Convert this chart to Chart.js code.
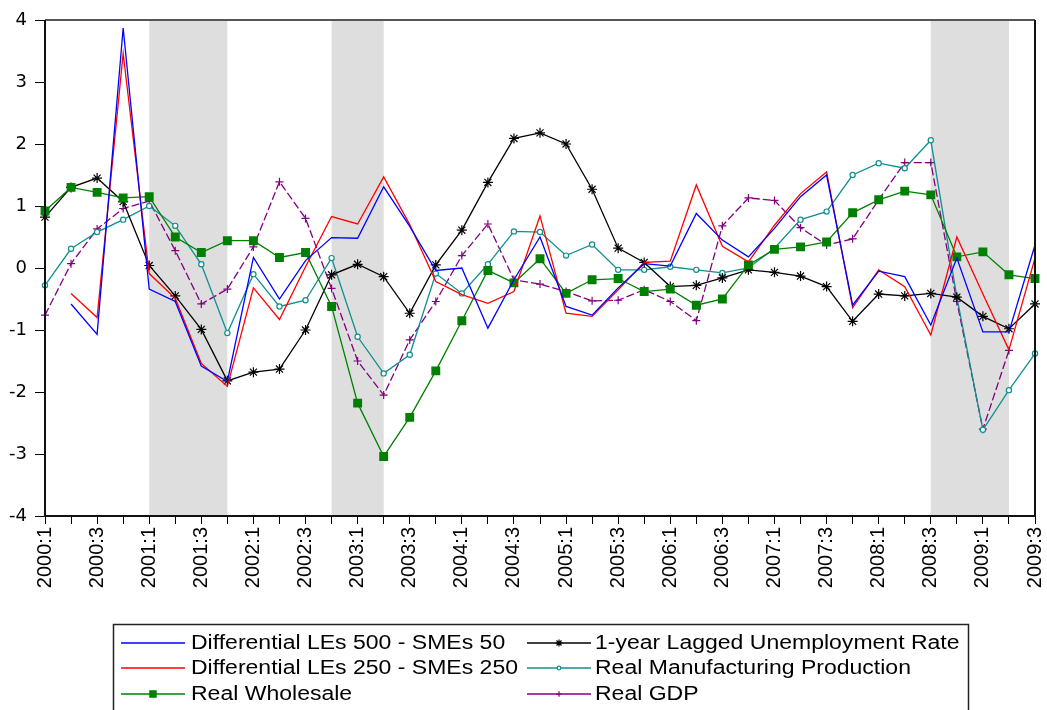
<!DOCTYPE html>
<html>
<head>
<meta charset="utf-8">
<script src="https://cdn.jsdelivr.net/npm/chart.js@4.4.1/dist/chart.umd.min.js"></script>
<style>
  html, body { margin: 0; padding: 0; background: #fff; overflow: hidden; }
  #wrap { width: 1047px; height: 710px; position: relative; }
</style>
</head>
<body>
<div id="wrap"><canvas id="chart" width="1047" height="710"></canvas></div>
<script>
const quarters = [
    "2000:1", "2000:2", "2000:3", "2000:4", "2001:1", "2001:2", "2001:3", "2001:4",
    "2002:1", "2002:2", "2002:3", "2002:4", "2003:1", "2003:2", "2003:3", "2003:4",
    "2004:1", "2004:2", "2004:3", "2004:4", "2005:1", "2005:2", "2005:3", "2005:4",
    "2006:1", "2006:2", "2006:3", "2006:4", "2007:1", "2007:2", "2007:3", "2007:4",
    "2008:1", "2008:2", "2008:3", "2008:4", "2009:1", "2009:2", "2009:3"
];

// shaded periods (first and last quarter index)
const recessions = [[4, 7], [11, 13], [34, 37]];

const diff500 = [null, -0.58, -1.07, 3.87, -0.34, -0.54, -1.58, -1.83, 0.17, -0.5,
    0.12, 0.49, 0.48, 1.31, 0.67, -0.04, 0.0, -0.97, -0.19, 0.5,
    -0.62, -0.76, -0.32, 0.07, 0.03, 0.88, 0.45, 0.18, 0.64, 1.15,
    1.5, -0.6, -0.05, -0.14, -0.92, 0.16, -1.03, -1.03, 0.37];

const diff250 = [null, -0.41, -0.8, 3.46, -0.09, -0.49, -1.54, -1.91, -0.32, -0.83,
    0.02, 0.83, 0.71, 1.47, 0.7, -0.22, -0.43, -0.57, -0.38, 0.84,
    -0.73, -0.78, -0.35, 0.09, 0.11, 1.34, 0.35, 0.1, 0.69, 1.2,
    1.55, -0.64, -0.03, -0.3, -1.08, 0.5, -0.42, -1.32, 0.16];

const wholesale = [0.92, 1.3, 1.22, 1.13, 1.15, 0.5, 0.25, 0.44, 0.44, 0.17,
    0.25, -0.62, -2.18, -3.04, -2.41, -1.66, -0.85, -0.04, -0.24, 0.15,
    -0.41, -0.19, -0.17, -0.38, -0.34, -0.6, -0.5, 0.05, 0.3, 0.34,
    0.42, 0.89, 1.1, 1.24, 1.18, 0.18, 0.26, -0.11, -0.17];

const unemployment = [0.82, 1.3, 1.45, 1.07, 0.04, -0.45, -0.99, -1.82, -1.68, -1.63,
    -1.0, -0.11, 0.06, -0.14, -0.73, 0.05, 0.61, 1.38, 2.09, 2.18,
    2.0, 1.27, 0.32, 0.09, -0.3, -0.28, -0.16, -0.03, -0.07, -0.13,
    -0.3, -0.86, -0.42, -0.45, -0.41, -0.47, -0.78, -0.98, -0.58];

const manufacturing = [-0.28, 0.31, 0.58, 0.78, 1.0, 0.68, 0.06, -1.05, -0.1, -0.62,
    -0.52, 0.16, -1.11, -1.7, -1.4, -0.09, -0.41, 0.06, 0.59, 0.58,
    0.2, 0.38, -0.03, -0.03, 0.02, -0.03, -0.08, 0.0, 0.32, 0.78,
    0.91, 1.5, 1.69, 1.61, 2.06, -0.47, -2.61, -1.97, -1.38];

const gdp = [-0.76, 0.07, 0.63, 0.96, 1.08, 0.28, -0.58, -0.34, 0.34, 1.39,
    0.8, -0.33, -1.5, -2.05, -1.16, -0.54, 0.2, 0.71, -0.19, -0.26,
    -0.38, -0.53, -0.52, -0.35, -0.54, -0.85, 0.68, 1.13, 1.09, 0.65,
    0.37, 0.47, 1.1, 1.7, 1.7, -0.54, -2.6, -1.33, null];

const series = [
    { label: "Differential LEs 500 - SMEs 50", data: diff500, color: "#0000ff", style: false, radius: 0, col: 0, row: 0 },
    { label: "Differential LEs 250 - SMEs 250", data: diff250, color: "#ff0000", style: false, radius: 0, col: 0, row: 1 },
    { label: "Real Wholesale", data: wholesale, color: "#008000", style: "rect", radius: 6.3, col: 0, row: 2 },
    { label: "1-year Lagged Unemployment Rate", data: unemployment, color: "#000000", style: "star", radius: 5, col: 1, row: 0 },
    { label: "Real Manufacturing Production", data: manufacturing, color: "#0f8f8f", style: "circle", radius: 2.6, col: 1, row: 1 },
    { label: "Real GDP", data: gdp, color: "#800080", style: "cross", radius: 4, col: 1, row: 2, dash: [8, 3] }
];

const shading = {
    id: "shading",
    beforeDatasetsDraw(chart) {
        const { ctx, chartArea, scales } = chart;
        ctx.save();
        ctx.fillStyle = "#dedede";
        for (const [a, b] of recessions) {
            const x1 = scales.x.getPixelForValue(a);
            const x2 = scales.x.getPixelForValue(b);
            ctx.fillRect(x1, chartArea.top, x2 - x1, chartArea.bottom - chartArea.top);
        }
        ctx.restore();
    }
};

const frame = {
    id: "frame",
    afterDatasetsDraw(chart) {
        const { ctx, chartArea } = chart;
        const { left, right, top, bottom } = chartArea;
        ctx.save();
        ctx.lineWidth = 2;
        ctx.strokeStyle = "#555";
        ctx.beginPath();
        ctx.moveTo(left, top);
        ctx.lineTo(right, top);
        ctx.stroke();
        ctx.strokeStyle = "#111";
        ctx.beginPath();
        ctx.moveTo(right, top);
        ctx.lineTo(right, bottom);
        ctx.lineTo(left, bottom);
        ctx.lineTo(left, top);
        ctx.stroke();
        ctx.restore();
    }
};

// legend in two columns, drawn under the plot
const boxLegend = {
    id: "boxLegend",
    afterDraw(chart) {
        const ctx = chart.ctx;
        ctx.save();
        ctx.strokeStyle = "#222";
        ctx.lineWidth = 1.5;
        ctx.strokeRect(113.5, 624.5, 855, 110);
        const lineX = [121, 527];
        const textX = [191, 595];
        const rowY = [643, 668, 694];
        series.forEach(s => {
            const x0 = lineX[s.col];
            const y = rowY[s.row];
            ctx.strokeStyle = s.color;
            ctx.lineWidth = 1.4;
            ctx.setLineDash([]);
            ctx.beginPath();
            ctx.moveTo(x0, y);
            ctx.lineTo(x0 + 64, y);
            ctx.stroke();
            if (s.style) {
                ctx.fillStyle = s.style === "circle" ? "#fff" : s.color;
                ctx.lineWidth = 1.2;
                Chart.helpers.drawPoint(ctx, { pointStyle: s.style, radius: s.radius * 0.7, rotation: 0, borderWidth: 1.2 }, x0 + 32, y);
            }
            ctx.save();
            ctx.translate(textX[s.col], y);
            ctx.scale(1.18, 1);
            ctx.fillStyle = "#000";
            ctx.font = "19.5px 'Liberation Sans', Arial, sans-serif";
            ctx.textBaseline = "middle";
            ctx.fillText(s.label, 0, 1);
            ctx.restore();
        });
        ctx.restore();
    }
};

new Chart(document.getElementById("chart").getContext("2d"), {
    type: "line",
    data: {
        labels: quarters,
        datasets: series.map(s => ({
            label: s.label,
            data: s.data,
            borderColor: s.color,
            backgroundColor: s.style === "circle" ? "#ffffff" : s.color,
            borderWidth: 1.3,
            borderDash: s.dash || [],
            pointStyle: s.style,
            pointRadius: s.radius,
            pointBorderColor: s.color,
            pointBackgroundColor: s.style === "circle" ? "#ffffff" : s.color,
            pointBorderWidth: s.style === "rect" ? 0 : 1.2,
            tension: 0,
            spanGaps: false,
            fill: false
        }))
    },
    options: {
        responsive: false,
        animation: false,
        layout: { padding: { left: 0, right: 12, top: 20, bottom: 84 } },
        plugins: {
            legend: { display: false },
            tooltip: { enabled: false }
        },
        scales: {
            x: {
                offset: false,
                grid: { drawOnChartArea: false, tickLength: 8, color: "#000" },
                border: { display: false },
                ticks: {
                    autoSkip: false,
                    minRotation: 90,
                    maxRotation: 90,
                    padding: 3,
                    color: "#000",
                    font: { family: "'Liberation Sans', Arial", size: 20 },
                    callback: (v, i) => i % 2 === 0 ? quarters[i] : ""
                },
                afterFit: s => {
                    s.height = 110;
                    s.paddingLeft = 0;
                    s.paddingRight = 0;
                }
            },
            y: {
                min: -4,
                max: 4,
                grid: { drawOnChartArea: false, tickLength: 10, color: "#000" },
                border: { display: false },
                ticks: {
                    stepSize: 1,
                    padding: 8,
                    color: "#000",
                    font: { family: "'DejaVu Sans'", size: 18 }
                },
                afterFit: s => {
                    s.width = 45;
                    s.paddingTop = 0;
                    s.paddingBottom = 0;
                }
            }
        }
    },
    plugins: [shading, frame, boxLegend]
});
</script>
</body>
</html>
